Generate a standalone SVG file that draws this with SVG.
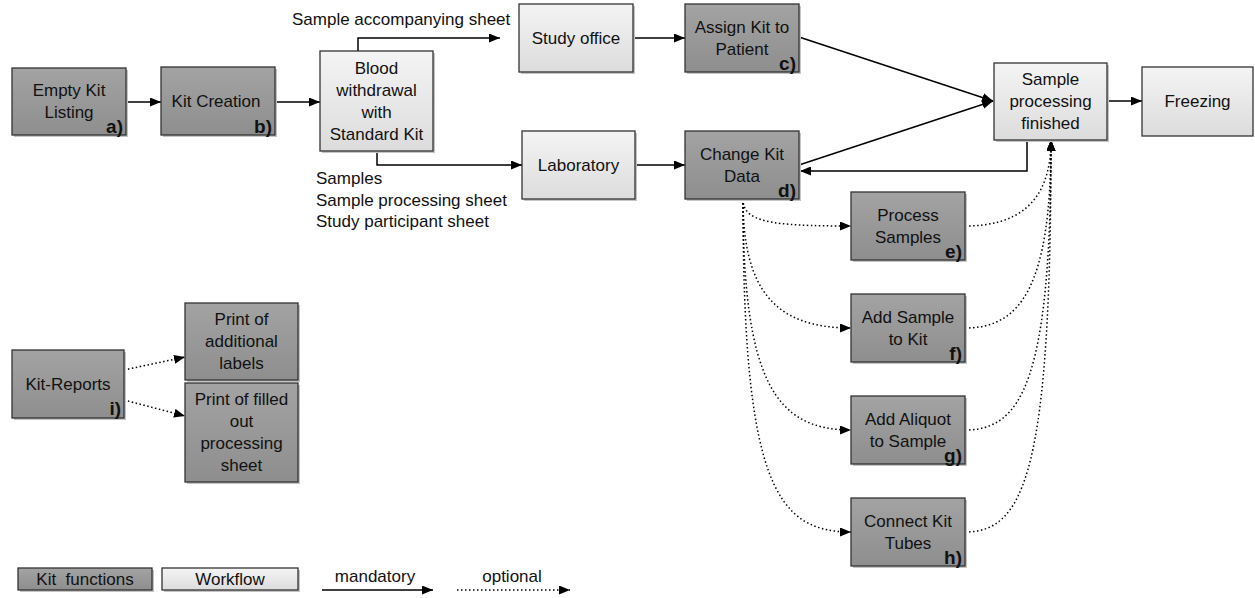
<svg xmlns="http://www.w3.org/2000/svg" width="1255" height="598" viewBox="0 0 1255 598">
<style>
text{font-family:"Liberation Sans",Arial,sans-serif;font-size:17px;fill:#111;text-anchor:middle}
.lbl{font-weight:bold;text-anchor:end;font-size:19px}
.free{text-anchor:start}
.pre{white-space:pre}
.kit{fill:url(#gDark);stroke:#333;stroke-width:1.3}
.wf{fill:url(#gLight);stroke:#333;stroke-width:1.3}
.sh{fill:#c4c4c4}
.c{fill:none;stroke:#000;stroke-width:1.5;marker-end:url(#ah)}
.d{fill:none;stroke:#000;stroke-width:1.5;stroke-dasharray:1.5 2.5;marker-end:url(#ah)}
</style>
<defs>
<linearGradient id="gDark" x1="0" y1="0" x2="0" y2="1"><stop offset="0" stop-color="#a3a3a3"/><stop offset="1" stop-color="#8e8e8e"/></linearGradient>
<linearGradient id="gLight" x1="0" y1="0" x2="0" y2="1"><stop offset="0" stop-color="#f4f4f4"/><stop offset="1" stop-color="#dcdcdc"/></linearGradient>
<marker id="ah" markerUnits="userSpaceOnUse" markerWidth="11" markerHeight="9" refX="11" refY="4.5" orient="auto"><path d="M0,0 L11,4.5 L0,9 z" fill="#000"/></marker>
</defs>
<rect width="1255" height="598" fill="#fff"/>

<g id="connectors">
<path class="c" d="M126,102 H161"/>
<path class="c" d="M275,102 H320"/>
<path class="c" d="M358,51 V38 H500"/>
<path class="c" d="M377,151 V165 H522"/>
<path class="c" d="M633,38 H685"/>
<path class="c" d="M635,165 H685"/>
<path class="c" d="M799,37 L993,101"/>
<path class="c" d="M799,165 L993,101"/>
<path class="c" d="M1107,101 H1142"/>
<path class="c" d="M1027,140 V171 H800"/>
<path class="d" d="M124,370 L185,357"/>
<path class="d" d="M124,400 L185,416"/>
<path class="d" d="M743,199 C743,222 770,226 851,226"/>
<path class="d" d="M743,199 C743,290 775,328 851,328"/>
<path class="d" d="M743,199 C743,380 775,430 851,430"/>
<path class="d" d="M743,199 C743,480 775,532 851,532"/>
<path class="d" d="M965,226 C1015,226 1051,205 1051,140"/>
<path class="d" d="M965,328 C1020,328 1051,288 1051,140"/>
<path class="d" d="M965,430 C1022,430 1051,380 1051,140"/>
<path class="d" d="M965,532 C1025,532 1051,470 1051,140"/>
</g>

<g id="n-emptykit"><rect class="sh" x="14" y="70" width="114" height="67"/><rect class="kit" x="12" y="68" width="114" height="67"/><text x="69" y="96">Empty Kit</text><text x="69" y="118">Listing</text><text class="lbl" x="123" y="133">a)</text></g>
<g id="n-kitcreation"><rect class="sh" x="163" y="69" width="114" height="68"/><rect class="kit" x="161" y="67" width="114" height="68"/><text x="216" y="107">Kit Creation</text><text class="lbl" x="272" y="133">b)</text></g>
<g id="n-blood"><rect class="sh" x="322" y="53" width="113" height="100"/><rect class="wf" x="320" y="51" width="113" height="100"/><text x="376.5" y="73.5">Blood</text><text x="376.5" y="95.5">withdrawal</text><text x="376.5" y="117.5">with</text><text x="376.5" y="139.5">Standard Kit</text></g>
<g id="n-studyoffice"><rect class="sh" x="521" y="6" width="114" height="68"/><rect class="wf" x="519" y="4" width="114" height="68"/><text x="576" y="44">Study office</text></g>
<g id="n-assign"><rect class="sh" x="687" y="6" width="114" height="68"/><rect class="kit" x="685" y="4" width="114" height="68"/><text x="742" y="32.5">Assign Kit to</text><text x="742" y="54.5">Patient</text><text class="lbl" x="796" y="70">c)</text></g>
<g id="n-laboratory"><rect class="sh" x="524" y="133" width="113" height="68"/><rect class="wf" x="522" y="131" width="113" height="68"/><text x="578.5" y="171">Laboratory</text></g>
<g id="n-changekit"><rect class="sh" x="687" y="133" width="114" height="68"/><rect class="kit" x="685" y="131" width="114" height="68"/><text x="742" y="159.5">Change Kit</text><text x="742" y="181.5">Data</text><text class="lbl" x="796" y="197">d)</text></g>
<g id="n-spf"><rect class="sh" x="996" y="65" width="113" height="77"/><rect class="wf" x="994" y="63" width="113" height="77"/><text x="1050.5" y="85">Sample</text><text x="1050.5" y="107">processing</text><text x="1050.5" y="129">finished</text></g>
<g id="n-freezing"><rect class="wf" x="1142" y="67" width="111" height="69"/><text x="1197.5" y="107">Freezing</text></g>
<g id="n-process"><rect class="sh" x="853" y="194" width="114" height="68"/><rect class="kit" x="851" y="192" width="114" height="68"/><text x="908" y="220.5">Process</text><text x="908" y="242.5">Samples</text><text class="lbl" x="962" y="258">e)</text></g>
<g id="n-addsample"><rect class="sh" x="853" y="296" width="114" height="68"/><rect class="kit" x="851" y="294" width="114" height="68"/><text x="908" y="322.5">Add Sample</text><text x="908" y="344.5">to Kit</text><text class="lbl" x="962" y="360">f)</text></g>
<g id="n-addaliquot"><rect class="sh" x="853" y="398" width="114" height="68"/><rect class="kit" x="851" y="396" width="114" height="68"/><text x="908" y="424.5">Add Aliquot</text><text x="908" y="446.5">to Sample</text><text class="lbl" x="962" y="462">g)</text></g>
<g id="n-connect"><rect class="sh" x="853" y="500" width="114" height="68"/><rect class="kit" x="851" y="498" width="114" height="68"/><text x="908" y="526.5">Connect Kit</text><text x="908" y="548.5">Tubes</text><text class="lbl" x="962" y="564">h)</text></g>
<g id="n-kitreports"><rect class="sh" x="14" y="352" width="112" height="68"/><rect class="kit" x="12" y="350" width="112" height="68"/><text x="68" y="390">Kit-Reports</text><text class="lbl" x="121" y="415">i)</text></g>
<g id="n-printlabels"><rect class="sh" x="187" y="305" width="113" height="77"/><rect class="kit" x="185" y="303" width="113" height="77"/><text x="241.5" y="325">Print of</text><text x="241.5" y="347">additional</text><text x="241.5" y="369">labels</text></g>
<g id="n-printfilled"><rect class="sh" x="187" y="385" width="113" height="99"/><rect class="kit" x="185" y="383" width="113" height="99"/><text x="241.5" y="405">Print of filled</text><text x="241.5" y="427">out</text><text x="241.5" y="449">processing</text><text x="241.5" y="471">sheet</text></g>

<g id="edge-labels">
<text class="free" x="292" y="25">Sample accompanying sheet</text>
<text class="free" x="316" y="184">Samples</text>
<text class="free" x="316" y="205.5">Sample processing sheet</text>
<text class="free" x="316" y="227">Study participant sheet</text>
</g>

<g id="legend">
<rect class="sh" x="20" y="570" width="134" height="22"/><rect class="kit" x="18" y="568" width="134" height="22"/><text class="pre" x="85" y="585">Kit  functions</text>
<rect class="sh" x="164" y="570" width="136" height="22"/><rect class="wf" x="162" y="568" width="136" height="22"/><text x="230" y="585">Workflow</text>
<text x="375" y="582">mandatory</text>
<path class="c" d="M322,590 H433"/>
<text x="512" y="582">optional</text>
<path class="d" d="M457,590 H570"/>
</g>
</svg>
